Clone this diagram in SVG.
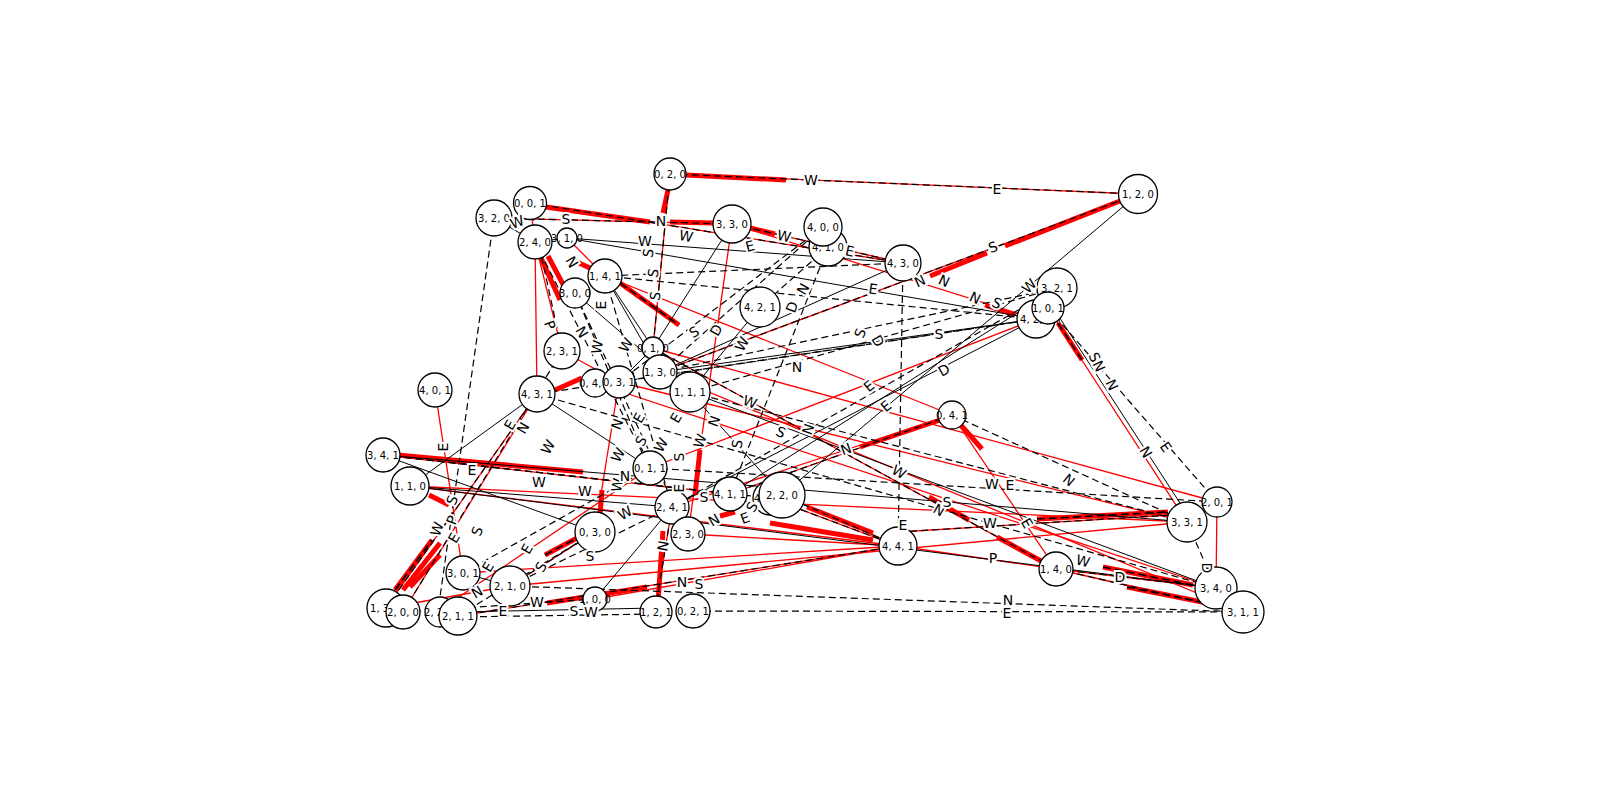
<svg xmlns="http://www.w3.org/2000/svg" width="1600" height="798" viewBox="0 0 1600 798">
<style>
.r{stroke:#ff0000;stroke-width:1.3;fill:none}
.k{stroke:#000;stroke-width:1;fill:none}
.d{stroke:#000;stroke-width:1.2;stroke-dasharray:7,4;fill:none}
.hd{stroke:#000;stroke-width:1.6;stroke-dasharray:8,4;fill:none}
.h{stroke:#ff0000;stroke-width:5;fill:none}
.nd circle{fill:#fff;stroke:#000;stroke-width:1.3}
.nd text{font-family:"DejaVu Sans",sans-serif;font-size:10px;text-anchor:middle;dominant-baseline:central;fill:#000}
.el text{font-family:"DejaVu Sans",sans-serif;font-size:14px;text-anchor:middle;dominant-baseline:central;stroke:#fff;stroke-width:4;paint-order:stroke;fill:#000}
</style>
<rect width="1600" height="798" fill="#fff"/>
<g id="connectors">
<!-- heavy red segments -->
<line class="h" x1="686" y1="175" x2="786" y2="180" stroke-width="6"/>
<line class="h" x1="546" y1="207" x2="650" y2="222"/>
<line class="h" x1="670" y1="222" x2="714" y2="223"/>
<line class="h" x1="668" y1="190" x2="663" y2="213"/>
<line class="h" x1="750" y1="228" x2="775" y2="234"/>
<line class="h" x1="1120" y1="201" x2="1005" y2="246" stroke-width="6"/>
<line class="h" x1="987" y1="253" x2="930" y2="276" stroke-width="6"/>
<line class="h" x1="1058" y1="323" x2="1082" y2="360"/>
<line class="h" x1="397" y1="455" x2="583" y2="472" stroke-width="6"/>
<line class="h" x1="395" y1="590" x2="432" y2="540" stroke-width="4"/>
<line class="h" x1="403" y1="590" x2="440" y2="543" stroke-width="4"/>
<line class="h" x1="410" y1="587" x2="440" y2="555" stroke-width="4"/>
<line class="h" x1="545" y1="555" x2="577" y2="538" stroke-width="6"/>
<line class="h" x1="547" y1="603" x2="647" y2="587" stroke-width="6"/>
<line class="h" x1="663" y1="531" x2="658" y2="602" stroke-width="4"/>
<line class="h" x1="602" y1="490" x2="600" y2="515"/>
<line class="h" x1="700" y1="450" x2="695" y2="495" stroke-width="4"/>
<line class="h" x1="770" y1="523" x2="873" y2="540" stroke-width="6"/>
<line class="h" x1="807" y1="507" x2="873" y2="533" stroke-width="6"/>
<line class="h" x1="940" y1="420" x2="860" y2="447" stroke-width="6"/>
<line class="h" x1="959" y1="423" x2="982" y2="449"/>
<line class="h" x1="1037" y1="519" x2="1168" y2="512" stroke-width="6"/>
<line class="h" x1="929" y1="497" x2="969" y2="520"/>
<line class="h" x1="997" y1="537" x2="1043" y2="562"/>
<line class="h" x1="1103" y1="567" x2="1193" y2="585" stroke-width="7"/>
<line class="h" x1="1127" y1="587" x2="1207" y2="603" stroke-width="6"/>
<line class="h" x1="541" y1="258" x2="560" y2="300" stroke-width="4"/>
<line class="h" x1="548" y1="256" x2="566" y2="290" stroke-width="3"/>
<line class="h" x1="620" y1="283" x2="679" y2="325" stroke-width="6"/>
<line class="h" x1="577" y1="262" x2="594" y2="270" stroke-width="4"/>
<line class="h" x1="555" y1="390" x2="582" y2="378"/>
<line class="h" x1="429" y1="495" x2="449" y2="505" stroke-width="4"/>
<line class="h" x1="985" y1="305" x2="1015" y2="315" stroke-width="4"/>
<line class="h" x1="720" y1="516" x2="735" y2="512"/>
<!-- red thin edges -->
<line class="r" x1="670" y1="174" x2="1138" y2="194"/>
<line class="r" x1="494" y1="218" x2="732" y2="224"/>
<line class="r" x1="530" y1="203" x2="903" y2="263"/>
<line class="r" x1="670" y1="174" x2="653" y2="348"/>
<line class="r" x1="732" y1="224" x2="903" y2="263"/>
<line class="r" x1="1138" y1="194" x2="660" y2="372"/>
<line class="r" x1="383" y1="455" x2="730" y2="494"/>
<line class="r" x1="1056" y1="569" x2="1216" y2="588"/>
<line class="r" x1="1056" y1="569" x2="1243" y2="612"/>
<line class="r" x1="510" y1="586" x2="1187" y2="522"/>
<line class="r" x1="899" y1="532" x2="1187" y2="514"/>
<line class="r" x1="782" y1="495" x2="898" y2="546"/>
<line class="r" x1="770" y1="498" x2="898" y2="546"/>
<line class="r" x1="458" y1="616" x2="898" y2="546"/>
<line class="r" x1="386" y1="608" x2="537" y2="394"/>
<line class="r" x1="510" y1="586" x2="595" y2="532"/>
<line class="r" x1="672" y1="507" x2="655" y2="612"/>
<line class="r" x1="435" y1="390" x2="463" y2="573"/>
<line class="r" x1="1048" y1="308" x2="1187" y2="522"/>
<line class="r" x1="595" y1="599" x2="898" y2="546"/>
<line class="r" x1="463" y1="573" x2="898" y2="546"/>
<line class="r" x1="653" y1="348" x2="1056" y2="569"/>
<line class="r" x1="1217" y1="502" x2="1216" y2="588"/>
<line class="r" x1="898" y1="546" x2="1056" y2="569"/>
<line class="r" x1="535" y1="242" x2="562" y2="351"/>
<line class="r" x1="535" y1="242" x2="537" y2="394"/>
<line class="r" x1="567" y1="238" x2="605" y2="276"/>
<line class="r" x1="605" y1="276" x2="952" y2="415"/>
<line class="r" x1="952" y1="415" x2="730" y2="494"/>
<line class="r" x1="952" y1="415" x2="1056" y2="569"/>
<line class="r" x1="403" y1="612" x2="537" y2="394"/>
<line class="r" x1="732" y1="224" x2="688" y2="534"/>
<line class="r" x1="595" y1="532" x2="619" y2="382"/>
<line class="r" x1="660" y1="372" x2="1243" y2="612"/>
<line class="r" x1="595" y1="383" x2="1216" y2="588"/>
<line class="r" x1="619" y1="382" x2="1187" y2="522"/>
<line class="r" x1="410" y1="486" x2="1187" y2="522"/>
<line class="r" x1="438" y1="611" x2="650" y2="468"/>
<line class="r" x1="386" y1="608" x2="510" y2="586"/>
<line class="r" x1="688" y1="534" x2="898" y2="546"/>
<line class="r" x1="410" y1="486" x2="898" y2="546"/>
<line class="r" x1="653" y1="348" x2="1217" y2="502"/>
<line class="r" x1="650" y1="468" x2="1036" y2="319"/>
<line class="r" x1="672" y1="507" x2="952" y2="415"/>
<line class="r" x1="562" y1="351" x2="619" y2="382"/>
<line class="r" x1="732" y1="224" x2="1036" y2="319"/>
<line class="r" x1="530" y1="203" x2="535" y2="242"/>
<!-- black solid edges -->
<line class="k" x1="567" y1="238" x2="1036" y2="319"/>
<line class="k" x1="1138" y1="194" x2="782" y2="495"/>
<line class="k" x1="1052" y1="306" x2="1191" y2="520"/>
<line class="k" x1="458" y1="612" x2="655" y2="608"/>
<line class="k" x1="383" y1="455" x2="1187" y2="522"/>
<line class="k" x1="410" y1="486" x2="1216" y2="588"/>
<line class="k" x1="690" y1="392" x2="782" y2="495"/>
<line class="k" x1="660" y1="372" x2="1036" y2="319"/>
<line class="k" x1="1057" y1="288" x2="730" y2="494"/>
<line class="k" x1="690" y1="392" x2="760" y2="307"/>
<line class="k" x1="605" y1="276" x2="660" y2="372"/>
<line class="k" x1="575" y1="293" x2="690" y2="392"/>
<line class="k" x1="605" y1="276" x2="653" y2="348"/>
<line class="k" x1="494" y1="218" x2="535" y2="242"/>
<line class="k" x1="535" y1="242" x2="567" y2="238"/>
<line class="k" x1="653" y1="348" x2="732" y2="224"/>
<line class="k" x1="660" y1="372" x2="903" y2="263"/>
<line class="k" x1="1036" y1="319" x2="672" y2="507"/>
<line class="k" x1="410" y1="486" x2="672" y2="507"/>
<line class="k" x1="383" y1="455" x2="595" y2="532"/>
<line class="k" x1="537" y1="394" x2="410" y2="486"/>
<line class="k" x1="595" y1="599" x2="672" y2="507"/>
<line class="k" x1="463" y1="573" x2="510" y2="586"/>
<line class="k" x1="690" y1="392" x2="1216" y2="588"/>
<line class="k" x1="537" y1="394" x2="650" y2="468"/>
<line class="k" x1="619" y1="382" x2="653" y2="348"/>
<line class="k" x1="567" y1="238" x2="903" y2="263"/>
<!-- dashed black edges -->
<line class="d" x1="670" y1="174" x2="1138" y2="194"/>
<line class="d" x1="494" y1="218" x2="732" y2="224"/>
<line class="d" x1="530" y1="203" x2="903" y2="263"/>
<line class="d" x1="670" y1="174" x2="653" y2="348"/>
<line class="d" x1="732" y1="224" x2="903" y2="263"/>
<line class="d" x1="1138" y1="194" x2="660" y2="372"/>
<line class="d" x1="383" y1="455" x2="730" y2="494"/>
<line class="d" x1="1056" y1="569" x2="1216" y2="588"/>
<line class="d" x1="1056" y1="569" x2="1243" y2="612"/>
<line class="d" x1="899" y1="532" x2="1187" y2="514"/>
<line class="d" x1="782" y1="495" x2="898" y2="546"/>
<line class="d" x1="770" y1="498" x2="898" y2="546"/>
<line class="d" x1="458" y1="616" x2="898" y2="546"/>
<line class="d" x1="386" y1="608" x2="537" y2="394"/>
<line class="d" x1="510" y1="586" x2="595" y2="532"/>
<line class="d" x1="672" y1="507" x2="655" y2="612"/>
<line class="d" x1="952" y1="415" x2="730" y2="494"/>
<line class="d" x1="653" y1="348" x2="1056" y2="569"/>
<line class="d" x1="494" y1="218" x2="438" y2="611"/>
<line class="d" x1="1048" y1="308" x2="1217" y2="502"/>
<line class="d" x1="510" y1="586" x2="1243" y2="612"/>
<line class="d" x1="693" y1="611" x2="1243" y2="612"/>
<line class="d" x1="458" y1="617" x2="655" y2="614"/>
<line class="d" x1="1187" y1="522" x2="1216" y2="588"/>
<line class="d" x1="690" y1="392" x2="1187" y2="522"/>
<line class="d" x1="903" y1="263" x2="898" y2="546"/>
<line class="d" x1="823" y1="227" x2="660" y2="372"/>
<line class="d" x1="828" y1="247" x2="760" y2="307"/>
<line class="d" x1="828" y1="247" x2="730" y2="494"/>
<line class="d" x1="1057" y1="288" x2="672" y2="507"/>
<line class="d" x1="1036" y1="319" x2="605" y2="276"/>
<line class="d" x1="903" y1="263" x2="605" y2="276"/>
<line class="d" x1="1057" y1="288" x2="690" y2="392"/>
<line class="d" x1="650" y1="468" x2="1217" y2="502"/>
<line class="d" x1="535" y1="242" x2="650" y2="468"/>
<line class="d" x1="575" y1="293" x2="650" y2="468"/>
<line class="d" x1="530" y1="203" x2="562" y2="351"/>
<line class="d" x1="403" y1="612" x2="562" y2="351"/>
<line class="d" x1="403" y1="612" x2="595" y2="599"/>
<line class="d" x1="463" y1="573" x2="650" y2="468"/>
<line class="d" x1="458" y1="616" x2="595" y2="532"/>
<line class="d" x1="510" y1="586" x2="672" y2="507"/>
<line class="d" x1="660" y1="372" x2="1057" y2="288"/>
<line class="d" x1="619" y1="382" x2="1036" y2="319"/>
<line class="d" x1="537" y1="394" x2="1216" y2="588"/>
<line class="d" x1="383" y1="455" x2="770" y2="498"/>
<line class="d" x1="575" y1="293" x2="688" y2="534"/>
<line class="d" x1="952" y1="415" x2="1187" y2="522"/>
<line class="d" x1="1036" y1="319" x2="537" y2="394"/>
<line class="d" x1="605" y1="276" x2="672" y2="507"/>
<line class="d" x1="823" y1="227" x2="619" y2="382"/>
<!-- dashes over heavy segments -->
<line class="hd" x1="1058" y1="323" x2="1082" y2="360"/>
<line class="hd" x1="1037" y1="519" x2="1168" y2="512"/>
<line class="hd" x1="395" y1="590" x2="432" y2="540"/>
<line class="hd" x1="545" y1="555" x2="577" y2="538"/>
<line class="hd" x1="620" y1="283" x2="679" y2="325"/>
<line class="hd" x1="1103" y1="567" x2="1193" y2="585"/>
<line class="hd" x1="1127" y1="587" x2="1207" y2="603"/>
</g>
<g id="nodes" class="nd">
<g id="n320"><circle cx="494" cy="218" r="18"/><text x="494" y="218">3, 2, 0</text></g>
<g id="n001"><circle cx="530" cy="203" r="16.5"/><text x="530" y="203">0, 0, 1</text></g>
<g id="n240"><circle cx="535" cy="242" r="17"/><text x="535" y="242">2, 4, 0</text></g>
<g id="n310"><circle cx="567" cy="238" r="10"/><text x="567" y="238">3, 1, 0</text></g>
<g id="n300"><circle cx="575" cy="293" r="15"/><text x="575" y="293">3, 0, 0</text></g>
<g id="n141"><circle cx="605" cy="276" r="17"/><text x="605" y="276">1, 4, 1</text></g>
<g id="n020"><circle cx="670" cy="174" r="16"/><text x="670" y="174">0, 2, 0</text></g>
<g id="n330"><circle cx="732" cy="224" r="19"/><text x="732" y="224">3, 3, 0</text></g>
<g id="n410"><circle cx="828" cy="247" r="19"/><text x="828" y="247">4, 1, 0</text></g>
<g id="n400"><circle cx="823" cy="227" r="19"/><text x="823" y="227">4, 0, 0</text></g>
<g id="n430"><circle cx="903" cy="263" r="18"/><text x="903" y="263">4, 3, 0</text></g>
<g id="n421"><circle cx="760" cy="307" r="20"/><text x="760" y="307">4, 2, 1</text></g>
<g id="n120"><circle cx="1138" cy="194" r="19.5"/><text x="1138" y="194">1, 2, 0</text></g>
<g id="n321"><circle cx="1057" cy="288" r="20"/><text x="1057" y="288">3, 2, 1</text></g>
<g id="n420"><circle cx="1036" cy="319" r="19"/><text x="1036" y="319">4, 2, 0</text></g>
<g id="n101"><circle cx="1048" cy="308" r="16"/><text x="1048" y="308">1, 0, 1</text></g>
<g id="n401"><circle cx="435" cy="390" r="17"/><text x="435" y="390">4, 0, 1</text></g>
<g id="n341"><circle cx="383" cy="455" r="17"/><text x="383" y="455">3, 4, 1</text></g>
<g id="n110"><circle cx="410" cy="486" r="19"/><text x="410" y="486">1, 1, 0</text></g>
<g id="n231"><circle cx="562" cy="351" r="18"/><text x="562" y="351">2, 3, 1</text></g>
<g id="n431"><circle cx="537" cy="394" r="18"/><text x="537" y="394">4, 3, 1</text></g>
<g id="n040"><circle cx="595" cy="383" r="14"/><text x="595" y="383">0, 4, 0</text></g>
<g id="n031"><circle cx="619" cy="382" r="16"/><text x="619" y="382">0, 3, 1</text></g>
<g id="n010"><circle cx="653" cy="348" r="11"/><text x="653" y="348">0, 1, 0</text></g>
<g id="n130"><circle cx="660" cy="372" r="17"/><text x="660" y="372">1, 3, 0</text></g>
<g id="n111"><circle cx="690" cy="392" r="20"/><text x="690" y="392">1, 1, 1</text></g>
<g id="n011"><circle cx="650" cy="468" r="17"/><text x="650" y="468">0, 1, 1</text></g>
<g id="n041"><circle cx="952" cy="415" r="14"/><text x="952" y="415">0, 4, 1</text></g>
<g id="n030"><circle cx="595" cy="532" r="20"/><text x="595" y="532">0, 3, 0</text></g>
<g id="n301"><circle cx="463" cy="573" r="17"/><text x="463" y="573">3, 0, 1</text></g>
<g id="n210"><circle cx="510" cy="586" r="20"/><text x="510" y="586">2, 1, 0</text></g>
<g id="n131"><circle cx="386" cy="608" r="19"/><text x="386" y="608">1, 3, 1</text></g>
<g id="n200"><circle cx="403" cy="612" r="17"/><text x="403" y="612">2, 0, 0</text></g>
<g id="n221"><circle cx="440" cy="612" r="15"/><text x="440" y="612">2, 2, 1</text></g>
<g id="n211"><circle cx="458" cy="616" r="19"/><text x="458" y="616">2, 1, 1</text></g>
<g id="n100"><circle cx="595" cy="599" r="12"/><text x="595" y="599">1, 0, 0</text></g>
<g id="n121"><circle cx="656" cy="612" r="16"/><text x="656" y="612">1, 2, 1</text></g>
<g id="n021"><circle cx="693" cy="611" r="17"/><text x="693" y="611">0, 2, 1</text></g>
<g id="n241"><circle cx="672" cy="507" r="17"/><text x="672" y="507">2, 4, 1</text></g>
<g id="n230"><circle cx="688" cy="534" r="17"/><text x="688" y="534">2, 3, 0</text></g>
<g id="n411"><circle cx="730" cy="494" r="17"/><text x="730" y="494">4, 1, 1</text></g>
<g id="n440"><circle cx="770" cy="498" r="17"/><text x="770" y="498">4, 4, 0</text></g>
<g id="n220"><circle cx="782" cy="495" r="23"/><text x="782" y="495">2, 2, 0</text></g>
<g id="n441"><circle cx="898" cy="546" r="19"/><text x="898" y="546">4, 4, 1</text></g>
<g id="n201"><circle cx="1217" cy="502" r="15"/><text x="1217" y="502">2, 0, 1</text></g>
<g id="n331"><circle cx="1187" cy="522" r="20"/><text x="1187" y="522">3, 3, 1</text></g>
<g id="n140"><circle cx="1056" cy="569" r="17"/><text x="1056" y="569">1, 4, 0</text></g>
<g id="n340"><circle cx="1216" cy="588" r="21"/><text x="1216" y="588">3, 4, 0</text></g>
<g id="n311"><circle cx="1243" cy="612" r="21"/><text x="1243" y="612">3, 1, 1</text></g>
</g>
<g id="edge-labels" class="el">
<text x="811" y="180">W</text>
<text x="997" y="189">E</text>
<text x="566" y="219">S</text>
<text x="661" y="221">N</text>
<text x="517" y="222" transform="rotate(-20 517 222)">W</text>
<text x="645" y="241">W</text>
<text x="686" y="236" transform="rotate(12 686 236)">W</text>
<text x="750" y="246" transform="rotate(-15 750 246)">E</text>
<text x="784" y="236" transform="rotate(12 784 236)">W</text>
<text x="850" y="251" transform="rotate(12 850 251)">E</text>
<text x="873" y="289" transform="rotate(8 873 289)">E</text>
<text x="792" y="307" transform="rotate(-70 792 307)">D</text>
<text x="803" y="289" transform="rotate(-60 803 289)">N</text>
<text x="920" y="281" transform="rotate(-25 920 281)">N</text>
<text x="944" y="281" transform="rotate(25 944 281)">N</text>
<text x="975" y="298" transform="rotate(25 975 298)">N</text>
<text x="997" y="303" transform="rotate(25 997 303)">S</text>
<text x="1029" y="286" transform="rotate(-45 1029 286)">W</text>
<text x="993" y="247" transform="rotate(-20 993 247)">S</text>
<text x="1097" y="362" transform="rotate(65 1097 362)">SN</text>
<text x="1112" y="385" transform="rotate(65 1112 385)">N</text>
<text x="1146" y="452" transform="rotate(60 1146 452)">N</text>
<text x="1166" y="447" transform="rotate(55 1166 447)">E</text>
<text x="572" y="262" transform="rotate(60 572 262)">N</text>
<text x="601" y="305" transform="rotate(-90 601 305)">E</text>
<text x="655" y="296" transform="rotate(-80 655 296)">S</text>
<text x="648" y="253" transform="rotate(-80 648 253)">S</text>
<text x="653" y="273" transform="rotate(-80 653 273)">S</text>
<text x="550" y="325" transform="rotate(70 550 325)">P</text>
<text x="582" y="332" transform="rotate(60 582 332)">N</text>
<text x="597" y="347" transform="rotate(-80 597 347)">W</text>
<text x="626" y="345" transform="rotate(-60 626 345)">W</text>
<text x="694" y="332" transform="rotate(-30 694 332)">S</text>
<text x="716" y="330" transform="rotate(-60 716 330)">D</text>
<text x="742" y="344" transform="rotate(-60 742 344)">W</text>
<text x="797" y="367">N</text>
<text x="939" y="334">S</text>
<text x="860" y="333" transform="rotate(-70 860 333)">S</text>
<text x="878" y="341" transform="rotate(60 878 341)">D</text>
<text x="944" y="370" transform="rotate(-30 944 370)">D</text>
<text x="869" y="386" transform="rotate(-40 869 386)">E</text>
<text x="886" y="406" transform="rotate(-40 886 406)">E</text>
<text x="846" y="449" transform="rotate(-20 846 449)">N</text>
<text x="899" y="472" transform="rotate(30 899 472)">W</text>
<text x="750" y="402" transform="rotate(20 750 402)">W</text>
<text x="781" y="432" transform="rotate(25 781 432)">S</text>
<text x="808" y="429" transform="rotate(-70 808 429)">N</text>
<text x="700" y="441" transform="rotate(-70 700 441)">W</text>
<text x="714" y="421" transform="rotate(-70 714 421)">N</text>
<text x="737" y="444" transform="rotate(-80 737 444)">S</text>
<text x="676" y="418" transform="rotate(-60 676 418)">E</text>
<text x="661" y="445" transform="rotate(-60 661 445)">W</text>
<text x="617" y="424" transform="rotate(-70 617 424)">N</text>
<text x="639" y="418" transform="rotate(-60 639 418)">E</text>
<text x="641" y="441" transform="rotate(-60 641 441)">S</text>
<text x="679" y="457" transform="rotate(-90 679 457)">S</text>
<text x="679" y="488" transform="rotate(-90 679 488)">E</text>
<text x="618" y="455" transform="rotate(-60 618 455)">W</text>
<text x="617" y="485" transform="rotate(-80 617 485)">W</text>
<text x="625" y="476">N</text>
<text x="585" y="491">W</text>
<text x="539" y="482">W</text>
<text x="472" y="470">E</text>
<text x="510" y="425" transform="rotate(-60 510 425)">E</text>
<text x="523" y="428" transform="rotate(-60 523 428)">N</text>
<text x="548" y="447" transform="rotate(-60 548 447)">W</text>
<text x="443" y="447" transform="rotate(-90 443 447)">E</text>
<text x="452" y="500" transform="rotate(-70 452 500)">S</text>
<text x="452" y="520" transform="rotate(-70 452 520)">P</text>
<text x="437" y="529" transform="rotate(-70 437 529)">W</text>
<text x="454" y="538" transform="rotate(-60 454 538)">E</text>
<text x="477" y="531" transform="rotate(-70 477 531)">S</text>
<text x="527" y="549" transform="rotate(-60 527 549)">E</text>
<text x="488" y="567" transform="rotate(-60 488 567)">E</text>
<text x="541" y="567" transform="rotate(-60 541 567)">S</text>
<text x="590" y="556">S</text>
<text x="625" y="513" transform="rotate(-30 625 513)">W</text>
<text x="477" y="592" transform="rotate(-30 477 592)">N</text>
<text x="537" y="602">W</text>
<text x="503" y="611">E</text>
<text x="574" y="611">S</text>
<text x="591" y="612">W</text>
<text x="682" y="582">N</text>
<text x="699" y="584">S</text>
<text x="663" y="546" transform="rotate(-80 663 546)">N</text>
<text x="714" y="520" transform="rotate(-30 714 520)">N</text>
<text x="704" y="497">S</text>
<text x="745" y="518" transform="rotate(-20 745 518)">E</text>
<text x="752" y="507" transform="rotate(-60 752 507)">S</text>
<text x="903" y="525">E</text>
<text x="939" y="510" transform="rotate(30 939 510)">N</text>
<text x="947" y="502">S</text>
<text x="990" y="523">W</text>
<text x="1027" y="523" transform="rotate(60 1027 523)">E</text>
<text x="992" y="484">W</text>
<text x="1010" y="485">E</text>
<text x="1069" y="480" transform="rotate(40 1069 480)">N</text>
<text x="993" y="558">P</text>
<text x="1083" y="561" transform="rotate(15 1083 561)">W</text>
<text x="1120" y="577">D</text>
<text x="1008" y="600">N</text>
<text x="1007" y="613">E</text>
<text x="1207" y="568" transform="rotate(90 1207 568)">D</text>
</g>
</svg>
